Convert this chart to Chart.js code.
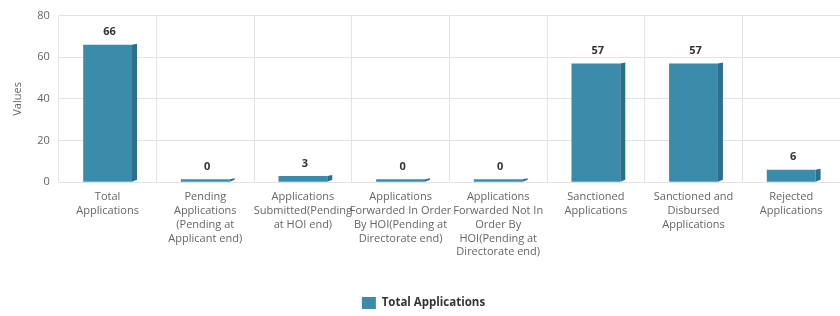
<!DOCTYPE html>
<html>
<head>
<meta charset="utf-8">
<script src="https://cdn.jsdelivr.net/npm/chart.js@4"></script>
<style>
  body { margin: 0; background: #fff; }
  #wrap { width: 840px; height: 316px; }
</style>
</head>
<body>
<div id="wrap"><canvas id="grafico" width="840" height="316"></canvas></div>
<script>
// categorias (etiquetas en varias lineas como en el original)
const categorias = [
  ["Total", "Applications"],
  ["Pending", "Applications", "(Pending at", "Applicant end)"],
  ["Applications", "Submitted(Pending", "at HOI end)"],
  ["Applications", "Forwarded In Order", "By HOI(Pending at", "Directorate end)"],
  ["Applications", "Forwarded Not In", "Order By", "HOI(Pending at", "Directorate end)"],
  ["Sanctioned", "Applications"],
  ["Sanctioned and", "Disbursed", "Applications"],
  ["Rejected", "Applications"]
];
const totalApplications = [66, 0, 3, 0, 0, 57, 57, 6];
const ticksY = [0, 20, 40, 60, 80];

const colorFrente = '#3b8bab';
const colorLado = '#2c6f8c';

// dibuja el lado oscuro (efecto 3d) y el valor encima de cada barra
const plugin3d = {
  id: 'plugin3d',
  afterDatasetsDraw(chart) {
    var ctx = chart.ctx;
    var meta = chart.getDatasetMeta(0);
    meta.data.forEach(function(bar, i) {
      var p = bar.getProps(['x', 'y', 'base', 'width'], true);
      var der = p.x + p.width / 2;
      var prof = 5;
      ctx.save();
      ctx.fillStyle = colorLado;
      ctx.beginPath();
      ctx.moveTo(der, p.y);
      ctx.lineTo(der + prof, p.y - 1);
      ctx.lineTo(der + prof, p.base - 2);
      ctx.lineTo(der, p.base);
      ctx.closePath();
      ctx.fill();

      ctx.fillStyle = '#333';
      ctx.font = 'bold 11px "Open Sans", sans-serif';
      ctx.textAlign = 'center';
      ctx.textBaseline = 'bottom';
      ctx.fillText(String(totalApplications[i]), p.x + 2, p.y - 7);
      ctx.restore();
    });
  }
};

new Chart(document.getElementById('grafico').getContext('2d'), {
  type: 'bar',
  data: {
    labels: categorias,
    datasets: [{
      label: 'Total Applications',
      data: totalApplications,
      backgroundColor: colorFrente,
      borderWidth: 0,
      minBarLength: 3,
      barPercentage: 0.5,
      categoryPercentage: 1
    }]
  },
  options: {
    responsive: false,
    animation: false,
    layout: { padding: { top: 0, right: 0, left: 7, bottom: -3 } },
    plugins: {
      legend: {
        position: 'bottom',
        labels: {
          boxWidth: 14,
          boxHeight: 12,
          padding: 9,
          color: '#333',
          font: { family: '"Open Sans", sans-serif', size: 11.5, weight: 'bold' }
        }
      },
      tooltip: { enabled: false }
    },
    scales: {
      x: {
        grid: { color: '#e3e3e3', offset: true, drawTicks: false },
        border: { display: false },
        afterFit(axis) { axis.height += 21; },
        ticks: {
          autoSkip: false,
          maxRotation: 0,
          padding: 8,
          color: '#666',
          font: { family: '"Open Sans", sans-serif', size: 11, lineHeight: 1.25 }
        }
      },
      y: {
        min: 0,
        max: 80,
        afterBuildTicks(axis) { axis.ticks = ticksY.map(v => ({ value: v })); },
        grid: { color: '#e3e3e3', drawTicks: false },
        border: { display: false },
        ticks: {
          padding: 9,
          color: '#666',
          font: { family: '"Open Sans", sans-serif', size: 11 }
        },
        title: {
          display: true,
          text: 'Values',
          color: '#666',
          font: { family: '"Open Sans", sans-serif', size: 11 }
        }
      }
    }
  },
  plugins: [plugin3d]
});
</script>
</body>
</html>
